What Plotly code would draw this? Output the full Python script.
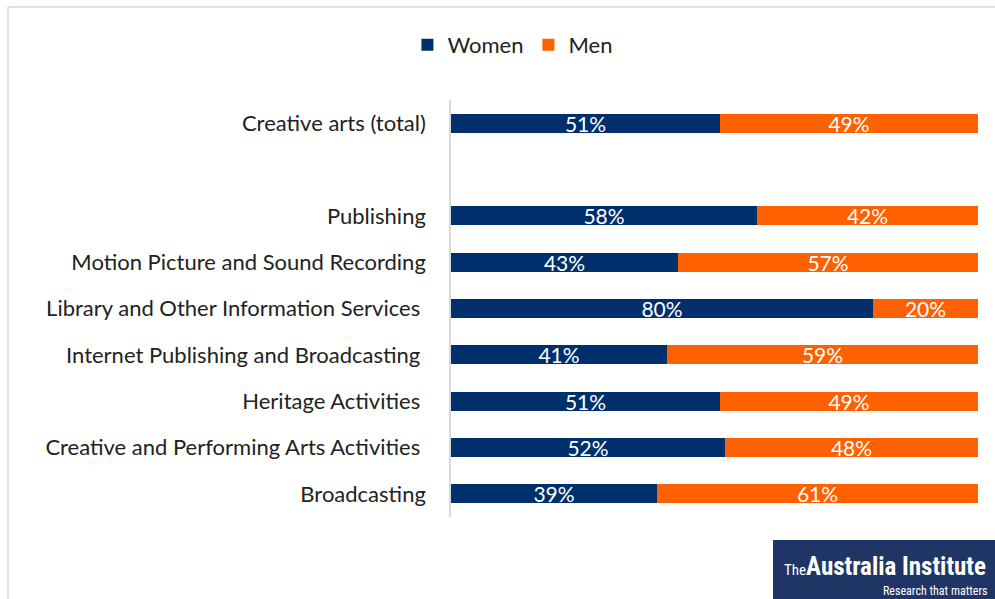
import plotly.graph_objects as go

# Share of workers by sex in creative-arts industries (per cent)
categories = [
    "Creative arts (total)",
    "Publishing",
    "Motion Picture and Sound Recording",
    "Library and Other Information Services\u00a0",
    "Internet Publishing and Broadcasting\u00a0",
    "Heritage Activities\u00a0",
    "Creative and Performing Arts Activities\u00a0",
    "Broadcasting",
]
women = [51, 58, 43, 80, 41, 51, 52, 39]
men = [49, 42, 57, 20, 59, 49, 48, 61]

# Row positions: total on top, a blank slot, then the industries
row_pos = [8, 6, 5, 4, 3, 2, 1, 0]

NAVY = "#00306b"
ORANGE = "#ff6000"
FONT = "Lato, Carlito, 'Open Sans', sans-serif"

fig = go.Figure()
fig.add_trace(go.Bar(
    y=row_pos, x=women, name="Women", orientation="h",
    marker=dict(color=NAVY, line=dict(width=0)), width=0.41,
    text=[f"{v}%" for v in women], textposition="inside",
    insidetextanchor="middle", textangle=0, constraintext="none",
    textfont=dict(color="white", size=21, family=FONT),
))
fig.add_trace(go.Bar(
    y=row_pos, x=men, name="Men", orientation="h",
    marker=dict(color=ORANGE, line=dict(width=0)), width=0.41,
    text=[f"{v}%" for v in men], textposition="inside",
    insidetextanchor="middle", textangle=0, constraintext="none",
    textfont=dict(color="white", size=21, family=FONT),
))

fig.update_layout(
    barmode="stack",
    width=995, height=599,
    margin=dict(l=451, r=17, t=100, b=82),
    paper_bgcolor="white", plot_bgcolor="white",
    font=dict(family=FONT, size=22, color="#222222"),
    showlegend=True,
    legend=dict(orientation="h", x=0.515, xref="container",
                xanchor="center", y=0.925, yref="container", yanchor="middle",
                font=dict(size=22, color="#222222", family=FONT),
                itemwidth=30, traceorder="normal"),
    xaxis=dict(range=[0, 100], visible=False, fixedrange=True),
    yaxis=dict(range=[-0.5, 8.5], tickmode="array", tickvals=row_pos,
               ticktext=categories, showgrid=False, zeroline=False,
               showline=True, linecolor="#d9d9d9", linewidth=1.5,
               ticks="", ticklabelstandoff=19,
               tickfont=dict(size=22, color="#222222", family=FONT)),
    bargap=0,
)

# Light frame along the top and left edges
fig.add_shape(type="line", xref="paper", yref="paper",
              x0=(8 - 451) / 527, x1=(995 - 451) / 527,
              y0=(517 - 7) / 417, y1=(517 - 7) / 417,
              line=dict(color="#d9d9d9", width=1.5))
fig.add_shape(type="line", xref="paper", yref="paper",
              x0=(8 - 451) / 527, x1=(8 - 451) / 527,
              y0=(517 - 7) / 417, y1=(517 - 600) / 417,
              line=dict(color="#d9d9d9", width=1.5))

# Institute logo block
fig.add_shape(type="rect", xref="paper", yref="paper",
              x0=(773 - 451) / 527, x1=(1000 - 451) / 527,
              y0=(517 - 605) / 417, y1=(517 - 540) / 417,
              fillcolor="#1f3566", line=dict(width=0), layer="above")
LOGO_FONT = "'Liberation Sans Narrow', 'Roboto Condensed', Roboto, sans-serif"
fig.add_annotation(xref="paper", yref="paper",
                   x=(782 - 451) / 527, y=(517 - 566) / 417,
                   xanchor="left", yanchor="middle", showarrow=False,
                   text="<span style='font-size:15px'>The</span><b>Australia Institute</b>",
                   font=dict(color="white", size=25, family=LOGO_FONT))
fig.add_annotation(xref="paper", yref="paper",
                   x=(990 - 451) / 527, y=(517 - 591) / 417,
                   xanchor="right", yanchor="middle", showarrow=False,
                   text="Research that matters",
                   font=dict(color="white", size=12, family=LOGO_FONT))

fig.write_html("out.html")
